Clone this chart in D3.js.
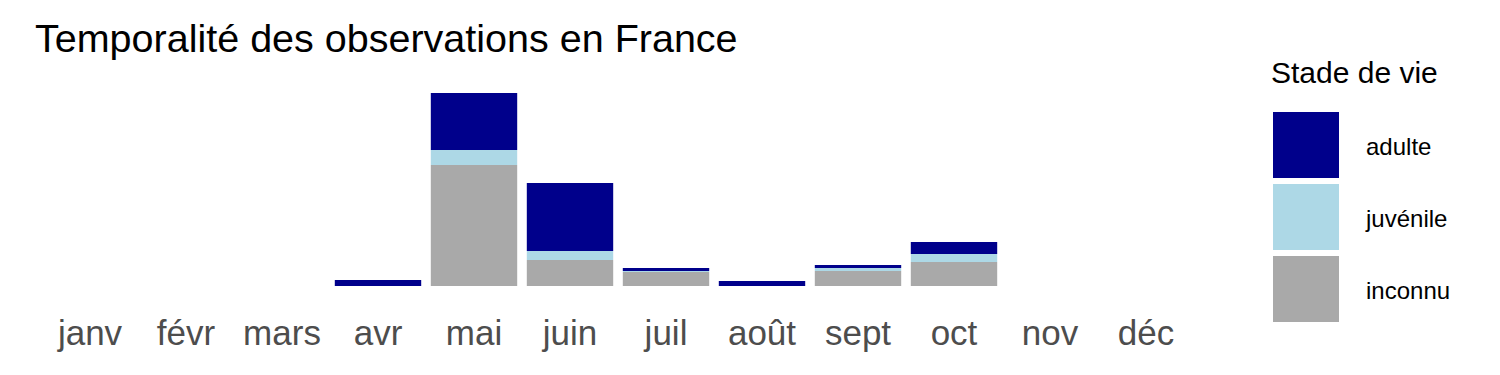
<!DOCTYPE html>
<html>
<head>
<meta charset="utf-8">
<script src="https://cdn.jsdelivr.net/npm/d3@7"></script>
<style>
  body { margin: 0; background: #fff; }
  svg { display: block; font-family: "Liberation Sans", Arial, sans-serif; }
</style>
</head>
<body>
<script>
// months and counts per life stage
const months = ['janv', 'févr', 'mars', 'avr', 'mai', 'juin', 'juil', 'août', 'sept', 'oct', 'nov', 'déc']
const stages = ['inconnu', 'juvénile', 'adulte']
const inconnu = [0, 0, 0, 0, 121, 26, 14, 0, 15, 24, 0, 0]
const juvenile = [0, 0, 0, 0, 15, 9, 1, 0, 3, 8, 0, 0]
const adulte = [0, 0, 0, 6, 57, 68, 3, 5, 3, 12, 0, 0]
const legendOrder = ['adulte', 'juvénile', 'inconnu']

let width = 1500
let height = 375

let svg = d3.select('body').append('svg')
    .attr('width', width)
    .attr('height', height)

let rows = months.map((m, i) => ({
    month: m,
    'inconnu': inconnu[i],
    'juvénile': juvenile[i],
    'adulte': adulte[i]
}))

let stack = d3.stack().keys(stages)
let series = stack(rows)

let x = d3.scaleBand()
    .domain(months)
    .range([42, 1194])
    .paddingInner(0.1)
    .paddingOuter(0.05)

let maxTotal = d3.max(rows, d => d['inconnu'] + d['juvénile'] + d['adulte'])
let y = d3.scaleLinear()
    .domain([0, maxTotal])
    .range([286, 93])

let color = d3.scaleOrdinal()
    .domain(stages)
    .range(['#A9A9A9', '#ADD8E6', '#00008B'])

// bars
svg.append('g')
    .selectAll('g')
    .data(series)
    .join('g')
    .attr('fill', d => color(d.key))
    .selectAll('rect')
    .data(d => d)
    .join('rect')
    .attr('x', d => x(d.data.month))
    .attr('width', x.bandwidth())
    .attr('y', d => y(d[1]))
    .attr('height', d => y(d[0]) - y(d[1]))

// x axis labels only
let xAxis = svg.append('g')
    .attr('transform', 'translate(0,310)')
    .call(d3.axisBottom(x).tickSize(0).tickPadding(0))
xAxis.select('.domain').remove()
xAxis.selectAll('text')
    .attr('dy', 0)
    .attr('y', 35)
    .attr('fill', '#4D4D4D')
    .style('font-size', '35px')
    .style('font-family', '"Liberation Sans", Arial, sans-serif')

// title
svg.append('text')
    .attr('x', 35)
    .attr('y', 52)
    .attr('font-size', 39.5)
    .attr('fill', '#000')
    .text('Temporalité des observations en France')

// legend
let legend = svg.append('g')
legend.append('text')
    .attr('x', 1271)
    .attr('y', 83)
    .attr('font-size', 30)
    .attr('fill', '#000')
    .text('Stade de vie')

let keys = legend.selectAll('.key')
    .data(legendOrder)
    .join('g')
    .attr('class', 'key')
    .attr('transform', (d, i) => 'translate(1273,' + (112 + i * 72) + ')')

keys.append('rect')
    .attr('width', 66)
    .attr('height', 66)
    .attr('fill', d => color(d))

keys.append('text')
    .attr('x', 93)
    .attr('y', 43)
    .attr('font-size', 24)
    .attr('fill', '#000')
    .text(d => d)
</script>
</body>
</html>
